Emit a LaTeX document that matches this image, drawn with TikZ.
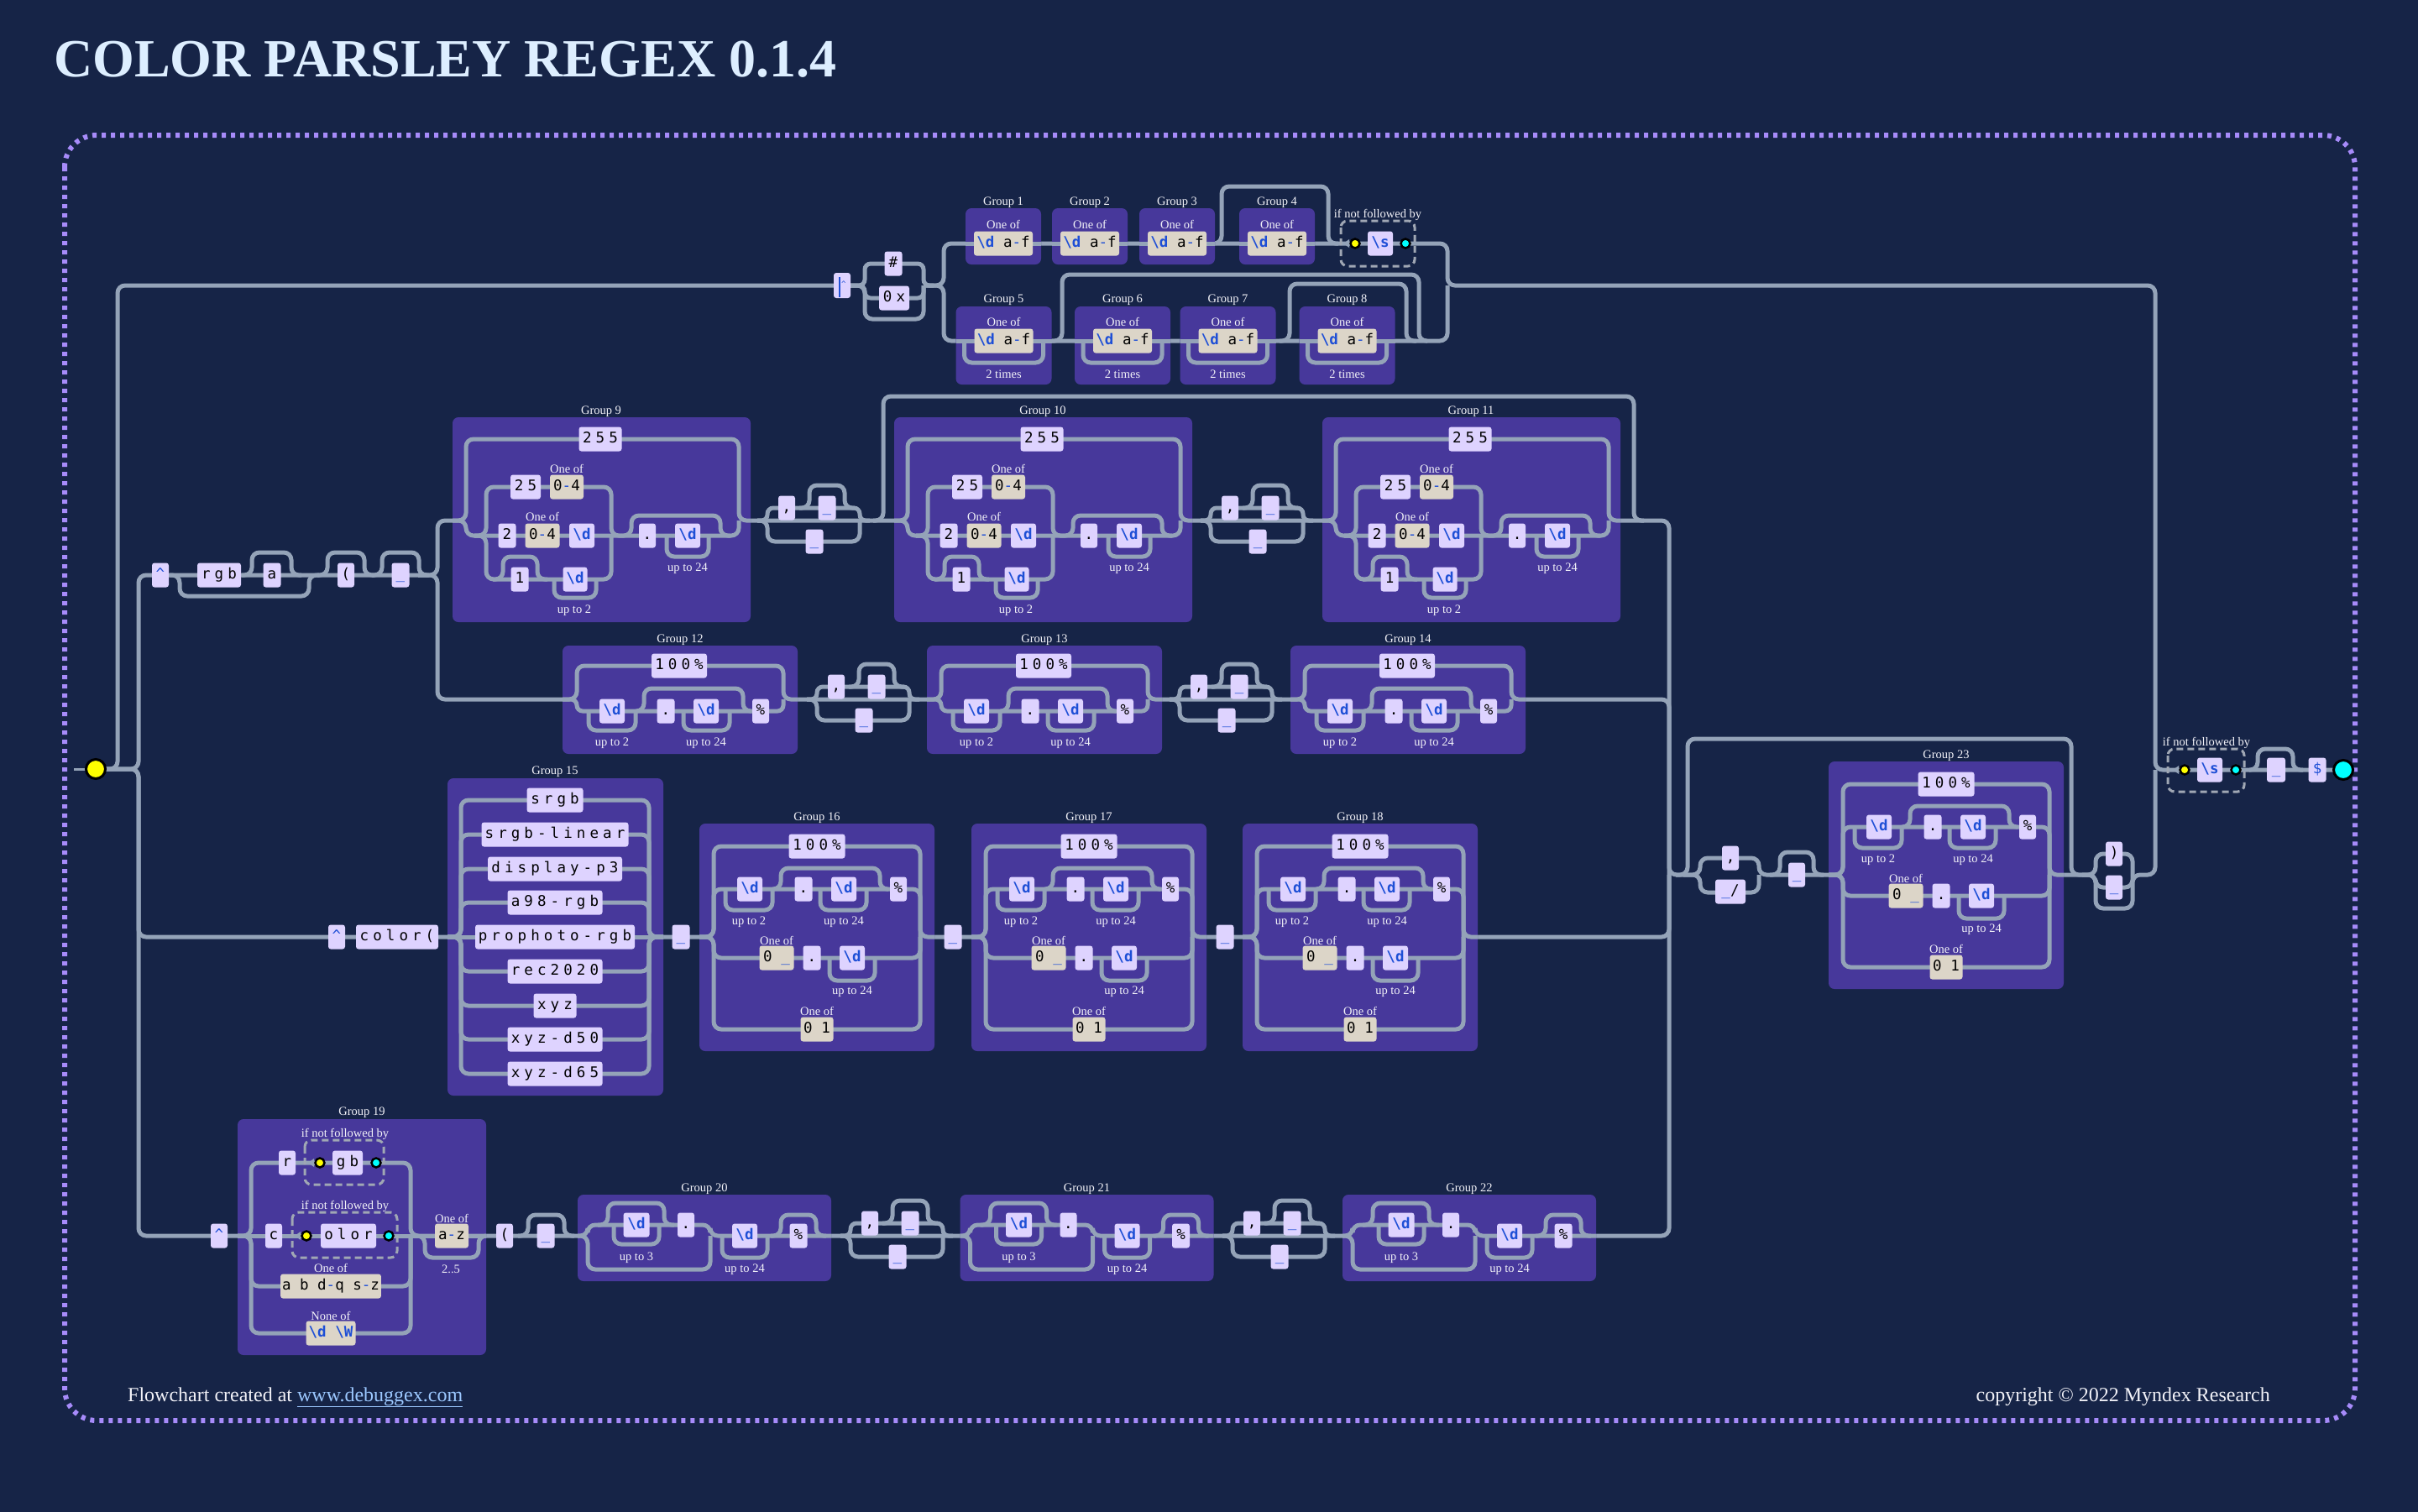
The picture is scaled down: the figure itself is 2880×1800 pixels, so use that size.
\documentclass[tikz,border=0pt]{standalone}
\usepackage{fontspec}
\setmainfont{Liberation Serif}
\newfontfamily\monoff{DejaVu Sans Mono}
\newfontfamily\litff{DejaVu Sans Mono}[LetterSpace=29]
\definecolor{bgc}{HTML}{162447}
\definecolor{grpc}{HTML}{47389B}
\definecolor{litc}{HTML}{DED3FF}
\definecolor{clsc}{HTML}{DCD5C8}
\definecolor{railc}{HTML}{94A3B8}
\definecolor{bordc}{HTML}{A78BFA}
\definecolor{dblue}{HTML}{1E4FD6}
\definecolor{titlec}{HTML}{DDEEFF}
\definecolor{lblc}{HTML}{F2F2F8}
\definecolor{linkc}{HTML}{9CC8FF}
\definecolor{lookc}{HTML}{A0A7B4}
\definecolor{cyanc}{HTML}{00FFFF}
\definecolor{yellc}{HTML}{FFFF00}
\newcommand\monf{\monoff\fontsize{17.5pt}{19pt}\selectfont}
\newcommand\litf{\litff\fontsize{17.5pt}{19pt}\selectfont}
\newcommand\lblf{\rmfamily\fontsize{14.5pt}{16pt}\selectfont}
\newcommand\blu[1]{\textcolor{dblue}{#1}}
\newcommand\dd{{\monf\bfseries\color{dblue}\textbackslash d}}
\newcommand\bs[1]{{\monf\bfseries\color{dblue}\textbackslash #1}}
\tikzset{
  rail/.style={draw=railc, line width=5pt, rounded corners=9pt},
  boxb/.style={rounded corners=3pt, minimum height=29pt, inner xsep=2pt, inner ysep=0pt, text height=12.5pt, text depth=3.5pt, text=black},
  lit/.style={boxb, fill=litc, font=\litf},
  cls/.style={boxb, fill=clsc, font=\monf},
  lbl/.style={font=\lblf, text=lblc, inner sep=0pt},
  grp/.style={fill=grpc, rounded corners=7pt},
  mw/.style={minimum width=#1},
  ydot/.style={circle, draw=black, line width=2.5pt, fill=yellc, minimum size=11pt, inner sep=0pt},
  cdot/.style={circle, draw=black, line width=2.5pt, fill=cyanc, minimum size=11pt, inner sep=0pt},
  look/.style={draw=lookc, line width=3pt, dash pattern=on 8pt off 5pt, rounded corners=8pt},
}
\newcommand\mylarr[2]{\fill[railc] ({#1-9},#2) -- ({#1-2},{#2-5}) -- ({#1-2},{#2+5}) -- cycle;}
% upper hex group
\newcommand\myhexup[3]{%
 \begin{scope}[shift={(#2,0)}]
  \fill[grp] (-45,248) rectangle (45,315);
  \draw[rail] (-45,290) -- (45,290);
  \node[lbl] (#1-lab) at (0,241) {#3};
  \node[lbl] (#1-one) at (0,267) {One of};
  \node[cls, mw=70pt] (#1) at (0,290) {\dd\ a\blu{-}f};
 \end{scope}}
% lower hex group
\newcommand\myhexlow[3]{%
 \begin{scope}[shift={(#2,0)}]
  \fill[grp] (-57,365) rectangle (57,458);
  \draw[rail] (-57,406) -- (57,406);
  \draw[rail] (-47,406) |- (0,432) -| (47,406);
  \node[lbl] (#1-lab) at (0,357) {#3};
  \node[lbl] (#1-one) at (0,383) {One of};
  \node[cls, mw=70pt] (#1) at (0,406) {\dd\ a\blu{-}f};
  \node[lbl] (#1-rep) at (0,446) {2 times};
 \end{scope}}
% rgb number group
\newcommand\myrgbgrp[3]{%
 \begin{scope}[shift={(#2,497)}]
  \fill[grp] (0,0) rectangle (355,244);
  \draw[rail] (0,123) -| (16,26) -| (341,123) -- (355,123);
  \draw[rail] (0,123) -| (16,141) -| (341,123);
  \draw[rail] (26,141) -| (40,83) -| (189,141) -- (201,141);
  \draw[rail] (26,141) -| (40,193) -| (189,141);
  \draw[rail] (48,193) -| (60,166) -| (101,193) -- (113,193);
  \draw[rail] (121,193) |- (146,215) -| (171,193);
  \draw[rail] (201,141) -| (213,117) -| (319,141) -- (331,141);
  \draw[rail] (255,141) |- (280,166) -| (305,141);
  \node[lbl] (#1-lab) at (177,-7) {#3};
  \node[lit, mw=51pt] (#1-255) at (176,26) {255};
  \node[lbl] (#1-o1) at (136,61) {One of};
  \node[lit, mw=36pt] (#1-25) at (87,83) {25};
  \node[cls, mw=40pt] (#1-c1) at (136,83) {0\blu{-}4};
  \node[lbl] (#1-o2) at (107,118) {One of};
  \node[lit, mw=21pt] (#1-2) at (65,141) {2};
  \node[cls, mw=41pt] (#1-c2) at (107,141) {0\blu{-}4};
  \node[lit, mw=30pt] (#1-d1) at (154,141) {\dd};
  \node[lit, mw=21pt] (#1-1) at (80,193) {1};
  \node[lit, mw=29pt] (#1-d2) at (146,193) {\dd};
  \node[lbl] (#1-r1) at (145,230) {up to 2};
  \node[lit, mw=20pt] (#1-dot) at (232,141) {.};
  \node[lit, mw=30pt] (#1-d3) at (280,141) {\dd};
  \node[lbl] (#1-r2) at (280,180) {up to 24};
 \end{scope}}
% separator  , _ | _
\newcommand\mysep[3]{%
 \begin{scope}[shift={(#2,#3)}]
  \draw[rail, rounded corners=7pt] (0,0) -| (12,-15) -| (122,0) -- (134,0);
  \draw[rail, rounded corners=9pt] (0,0) -| (12,25) -| (122,0);
  \draw[rail] (50,-15) -| (62,-42) -| (104,-15) -- (116,-15);
  \node[lit, mw=20pt] (#1-c) at (35,-15) {,};
  \node[lit, mw=21pt] (#1-u) at (83,-15) {\blu{\_}};
  \node[lit, mw=21pt] (#1-l) at (68,25) {\blu{\_}};
 \end{scope}}
% percent group
\newcommand\mypctgrp[3]{%
 \begin{scope}[shift={(#2,769)}]
  \fill[grp] (0,0) rectangle (280,129);
  \draw[rail] (0,64) -| (17,24) -| (263,64) -- (280,64);
  \draw[rail, rounded corners=7pt] (0,64) -| (17,78) -| (263,64);
  \draw[rail] (87,78) -| (97,51) -| (215,78) -- (225,78);
  \draw[rail] (31,78) |- (59,101) -| (87,78);
  \draw[rail] (144,78) |- (171,101) -| (199,78);
  \node[lbl] (#1-lab) at (140,-7) {#3};
  \node[lit, mw=66pt] (#1-100) at (139,24) {100\%};
  \node[lit, mw=30pt] (#1-d1) at (59,78) {\dd};
  \node[lit, mw=21pt] (#1-dot) at (123,78) {.};
  \node[lit, mw=30pt] (#1-d2) at (171,78) {\dd};
  \node[lit, mw=20pt] (#1-pc) at (236,78) {\%};
  \node[lbl] (#1-r1) at (59,116) {up to 2};
  \node[lbl] (#1-r2) at (171,116) {up to 24};
 \end{scope}}
% alpha group
\newcommand\myalphagrp[4]{%
 \begin{scope}[shift={(#2,#3)}]
  \fill[grp] (0,0) rectangle (280,271);
  \draw[rail] (0,135) -| (17,27) -| (263,135) -- (280,135);
  \draw[rail] (0,135) -| (17,78) -| (263,135);
  \draw[rail] (0,135) -| (17,160) -| (263,135);
  \draw[rail] (0,135) -| (17,245) -| (263,135);
  \draw[rail] (87,78) -| (97,53) -| (215,78) -- (225,78);
  \draw[rail] (31,78) |- (59,103) -| (87,78);
  \draw[rail] (144,78) |- (171,103) -| (199,78);
  \draw[rail] (155,160) |- (182,187) -| (209,160);
  \node[lbl] (#1-lab) at (140,-7) {#4};
  \node[lit, mw=67pt] (#1-100) at (140,27) {100\%};
  \node[lit, mw=30pt] (#1-d1) at (60,78) {\dd};
  \node[lit, mw=21pt] (#1-dot1) at (124,78) {.};
  \node[lit, mw=30pt] (#1-d2) at (172,78) {\dd};
  \node[lit, mw=20pt] (#1-pc) at (237,78) {\%};
  \node[lbl] (#1-r1) at (59,117) {up to 2};
  \node[lbl] (#1-r2) at (172,117) {up to 24};
  \node[lbl] (#1-o1) at (92,139) {One of};
  \node[cls, mw=41pt] (#1-c1) at (92,160) {0 \blu{\_}};
  \node[lit, mw=21pt] (#1-dot2) at (134,160) {.};
  \node[lit, mw=30pt] (#1-d3) at (182,160) {\dd};
  \node[lbl] (#1-r3) at (182,200) {up to 24};
  \node[lbl] (#1-o2) at (140,223) {One of};
  \node[cls, mw=39pt] (#1-c2) at (140,245) {0 1};
 \end{scope}}
% decimal group
\newcommand\mydecgrp[3]{%
 \begin{scope}[shift={(#2,1423)}]
  \fill[grp] (0,0) rectangle (302,103);
  \draw[rail] (0,49) -| (12,36) -| (158,49) -- (302,49);
  \draw[rail] (0,49) -| (12,89) -| (158,49);
  \draw[rail] (24,36) -| (36,10) -| (103,36) -- (115,36);
  \draw[rail] (43,36) |- (70,59) -| (97,36);
  \draw[rail] (172,49) |- (199,75) -| (226,49);
  \draw[rail] (230,49) -| (242,24) -| (284,49) -- (296,49);
  \node[lbl] (#1-lab) at (151,-7) {#3};
  \node[lit, mw=31pt] (#1-d1) at (70,36) {\dd};
  \node[lit, mw=20pt] (#1-dot) at (129,36) {.};
  \node[lit, mw=30pt] (#1-d2) at (199,49) {\dd};
  \node[lit, mw=21pt] (#1-pc) at (263,49) {\%};
  \node[lbl] (#1-r1) at (70,75) {up to 3};
  \node[lbl] (#1-r2) at (199,89) {up to 24};
 \end{scope}}
\begin{document}
\begin{tikzpicture}[x=1pt, y=-1pt]
\useasboundingbox (0,0) rectangle (2880,1800);
\fill[bgc] (-20,-20) rectangle (2900,1820);
% border, title, footer
\draw[bordc, line width=6pt, dash pattern=on 5pt off 6pt, rounded corners=38pt] (77,161) rectangle (2805,1692);
\node[anchor=base west, inner sep=0pt, text=titlec, font=\bfseries\fontsize{64pt}{70pt}\selectfont] (title) at (64,91) {COLOR PARSLEY REGEX 0.1.4};
\node[anchor=base west, inner sep=0pt, text=lblc, font=\fontsize{24pt}{26pt}\selectfont] (credit) at (152,1669) {Flowchart created at \textcolor{linkc}{\underline{www.debuggex.com}}};
\node[anchor=base east, inner sep=0pt, text=lblc, font=\fontsize{24pt}{26pt}\selectfont] (copy) at (2704,1669) {copyright © 2022 Myndex Research};

% ---------- outer rails ----------
\coordinate (stub) at (88,916);
\draw[railc, line width=3pt] (stub) -- (104,916);
\draw[rail] (114,916) -| (140,340) -- (1013,340);
\draw[rail] (114,916) -| (165,685) -- (509,685);
\draw[rail] (114,916) -| (165,1116) -| (1988,1042);
\draw[rail] (114,916) -| (165,1472) -| (1988,1042);
\draw[rail] (498,685) -| (521,620) -- (1930,620) -| (1988,1042) -- (2005,1042);
\draw[rail] (498,685) -| (521,833) -- (1817,833) -| (1988,1042);
\draw[rail] (202,685) -| (214,710) -| (368,685) -- (380,685);
\draw[rail] (288,685) -| (300,658) -| (347,685) -- (359,685);
\draw[rail] (378,685) -| (390,658) -| (434,685) -- (446,685);
\draw[rail] (443,685) -| (455,658) -| (499,685) -- (511,685);
\draw[rail] (1040,620) -| (1052,472) -| (1946,620) -- (1958,620);
% hex
\draw[rail, rounded corners=7pt] (1003,340) -| (1030,314) -| (1100,340) -- (1112,340);
\draw[rail, rounded corners=7pt] (1003,340) -| (1030,355) -| (1100,340);
\draw[rail] (1003,340) -| (1030,380) -| (1100,340);
\draw[rail] (1100,340) -| (1124,290) -- (1705,290) -| (1724,340) -- (2567,340) |- (2590,917) -- (2781,917);
\draw[rail] (1100,340) -| (1124,406) -- (1705,406) -| (1724,340);
\draw[rail] (1443,290) -| (1455,222) -| (1582,290) -- (1594,290);
\draw[rail] (1253,406) -| (1265,327) -| (1690,406) -- (1700,406);
\draw[rail] (1524,406) -| (1536,338) -| (1675,406) -- (1687,406);
% alpha section
\draw[rail] (2005,1042) -| (2025,1022) -| (2095,1042) -- (2480,1042);
\draw[rail] (2005,1042) -| (2025,1063) -| (2095,1042);
\draw[rail] (1996,1042) -| (2010,880) -| (2467,1042) -- (2480,1042);
\draw[rail] (2108,1042) -| (2120,1015) -| (2160,1042) -- (2172,1042);
\draw[rail] (2480,1042) -| (2496,1017) -| (2540,1042);
\draw[rail] (2480,1042) -| (2496,1057) -| (2540,1042);
\draw[rail] (2480,1042) -| (2496,1082) -| (2540,1042) -| (2567,917);
\draw[rail] (2679,917) -| (2689,892) -| (2731,917) -- (2743,917);
% dec row
\draw[rail] (617,1472) -| (629,1447) -| (672,1472) -- (684,1472);

% ---------- hex groups ----------
\myhexup{g1}{1195}{Group 1}
\myhexup{g2}{1298}{Group 2}
\myhexup{g3}{1402}{Group 3}
\myhexup{g4}{1521}{Group 4}
\myhexlow{g5}{1195.5}{Group 5}
\myhexlow{g6}{1337}{Group 6}
\myhexlow{g7}{1462.5}{Group 7}
\myhexlow{g8}{1604.5}{Group 8}
\node[lit, mw=20pt, minimum height=30pt] (hexanchor) at (1003,340) {\textcolor{dblue}{\rule[-9pt]{2.5pt}{24pt}}\kern1pt\raisebox{3pt}{\fontsize{9pt}{9pt}\selectfont\blu{\textasciicircum}}};
\node[lit, mw=21pt] (hexhash) at (1064,314) {\#};
\node[lit, mw=36pt] (hex0x) at (1065,355) {0x};
\draw[look] (1597,263) rectangle (1685,317);
\node[lbl] (hexlooklab) at (1641,256) {if not followed by};
\mylarr{1609}{290}
\node[ydot] (hexy) at (1614,290) {};
\node[lit, mw=30pt] (hexs) at (1644,290) {\bs{s}};
\node[cdot] (hexc) at (1674,290) {};

% ---------- rgb row ----------
\node[lit, mw=20pt] (rgbcaret) at (191,685) {\blu{\textasciicircum}};
\node[lit, mw=52pt] (rgbtxt) at (261,685) {rgb};
\node[lit, mw=21pt] (rgba) at (324,685) {a};
\node[lit, mw=20pt] (rgbparen) at (412,685) {(};
\node[lit, mw=21pt] (rgbsp) at (477,685) {\blu{\_}};
\myrgbgrp{g9}{539}{Group 9}
\myrgbgrp{g10}{1065}{Group 10}
\myrgbgrp{g11}{1575}{Group 11}
\mysep{s9}{902}{620}
\mysep{s10}{1430}{620}
\mypctgrp{g12}{670}{Group 12}
\mypctgrp{g13}{1104}{Group 13}
\mypctgrp{g14}{1537}{Group 14}
\mysep{s12}{961}{833}
\mysep{s13}{1393}{833}

% ---------- color row ----------
\node[lit, mw=20pt] (colcaret) at (401,1116) {\blu{\textasciicircum}};
\node[lit, mw=98pt] (coltxt) at (473,1116) {color(};
\fill[grp] (533,927) rectangle (790,1305);
\node[lbl] (g15-lab) at (661,919) {Group 15};
\draw[rail] (533,1116) -- (790,1116);
\foreach \yy in {953,994,1035,1075,1157,1198,1238,1279}{
  \draw[rail] (533,1116) -| (549,\yy) -| (773,1116) -- (790,1116);
}
\node[lit, mw=67pt] (g15-a) at (661,953) {srgb};
\node[lit, mw=175pt] (g15-b) at (661,994) {srgb-linear};
\node[lit, mw=160pt] (g15-c) at (661,1035) {display-p3};
\node[lit, mw=113pt] (g15-d) at (661,1075) {a98-rgb};
\node[lit, mw=190pt] (g15-e) at (661,1116) {prophoto-rgb};
\node[lit, mw=113pt] (g15-f) at (661,1157) {rec2020};
\node[lit, mw=51pt] (g15-g) at (661,1198) {xyz};
\node[lit, mw=113pt] (g15-h) at (661,1238) {xyz-d50};
\node[lit, mw=113pt] (g15-i) at (661,1279) {xyz-d65};
\node[lit, mw=21pt] (colsp1) at (811,1116) {\blu{\_}};
\myalphagrp{g16}{833}{981}{Group 16}
\node[lit, mw=21pt] (colsp2) at (1135,1116) {\blu{\_}};
\myalphagrp{g17}{1157}{981}{Group 17}
\node[lit, mw=21pt] (colsp3) at (1459,1116) {\blu{\_}};
\myalphagrp{g18}{1480}{981}{Group 18}

% ---------- group 19 row ----------
\node[lit, mw=20pt] (deccaret) at (261,1472) {\blu{\textasciicircum}};
\fill[grp] (283,1333) rectangle (579,1614);
\node[lbl] (g19-lab) at (431,1325) {Group 19};
\draw[rail] (283,1472) -| (299,1385) -| (489,1472) -- (579,1472);
\draw[rail] (283,1472) -- (579,1472);
\draw[rail] (283,1472) -| (299,1532) -| (489,1472);
\draw[rail] (283,1472) -| (299,1588) -| (489,1472);
\draw[rail] (494,1472) -| (506,1498) -| (570,1472) -- (579,1472);
\node[lit, mw=20pt] (g19-r) at (342,1385) {r};
\draw[look] (363,1358) rectangle (457,1411);
\node[lbl] (g19-la1) at (411,1351) {if not followed by};
\mylarr{376}{1385}
\node[ydot] (g19-y1) at (381,1385) {};
\node[lit, mw=36pt] (g19-gb) at (414,1385) {gb};
\node[cdot] (g19-c1) at (448,1385) {};
\node[lit, mw=20pt] (g19-c) at (326,1472) {c};
\draw[look] (348,1444) rectangle (473,1498);
\node[lbl] (g19-la2) at (411,1437) {if not followed by};
\mylarr{360}{1472}
\node[ydot] (g19-y2) at (365,1472) {};
\node[lit, mw=66pt] (g19-olor) at (415,1472) {olor};
\node[cdot] (g19-c2) at (463,1472) {};
\node[lbl] (g19-o1) at (394,1510) {One of};
\node[cls, mw=117pt] (g19-set) at (394,1532) {a b d\blu{-}q s\blu{-}z};
\node[lbl] (g19-o2) at (394,1567) {None of};
\node[cls, mw=59pt] (g19-not) at (394,1588) {\bs{d} \bs{W}};
\node[lbl] (g19-o3) at (538,1451) {One of};
\node[cls, mw=40pt] (g19-az) at (538,1472) {a\blu{-}z};
\node[lbl] (g19-rep) at (537,1512) {2..5};
\node[lit, mw=20pt] (decparen) at (601,1472) {(};
\node[lit, mw=21pt] (decsp) at (650,1472) {\blu{\_}};
\mydecgrp{g20}{688}{Group 20}
\mydecgrp{g21}{1143.5}{Group 21}
\mydecgrp{g22}{1599}{Group 22}
\mysep{s20}{1001}{1472}
\mysep{s21}{1456}{1472}

% ---------- alpha / end ----------
\node[lit, mw=20pt] (acomma) at (2061,1022) {,};
\node[lit, mw=36pt] (aslash) at (2061,1062) {\blu{\_}/};
\node[lit, mw=20pt] (asp) at (2140,1042) {\blu{\_}};
\myalphagrp{g23}{2178}{907}{Group 23}
\node[lit, mw=20pt] (aparen) at (2518,1017) {)};
\node[lit, mw=20pt] (asp2) at (2518,1057) {\blu{\_}};
\draw[look] (2582,892) rectangle (2673,943);
\node[lbl] (finlab) at (2628,885) {if not followed by};
\mylarr{2597}{917}
\node[ydot] (finy) at (2602,917) {};
\node[lit, mw=30pt] (fins) at (2632,917) {\bs{s}};
\node[cdot] (finc) at (2663,917) {};
\node[lit, mw=22pt] (finsp) at (2711,917) {\blu{\_}};
\node[lit, mw=21pt] (findollar) at (2760,917) {\blu{\$}};
\node[circle, fill=cyanc, draw=black, line width=3pt, minimum size=23pt, inner sep=0pt] (end) at (2791,917) {};
\node[circle, fill=yellc, draw=black, line width=3pt, minimum size=23pt, inner sep=0pt] (start) at (114,916) {};
\end{tikzpicture}
\end{document}
